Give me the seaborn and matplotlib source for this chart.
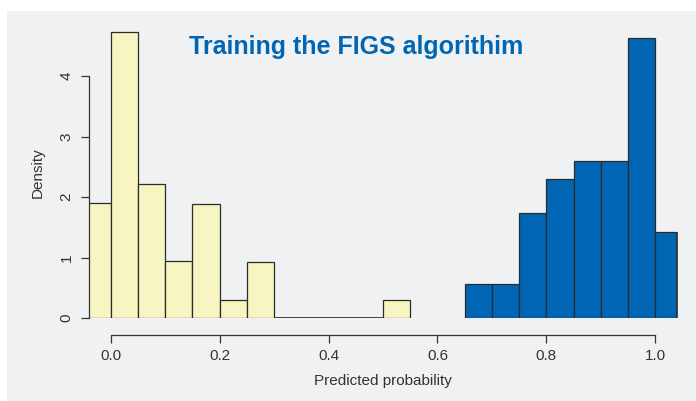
import numpy as np
import seaborn as sns
from matplotlib import pyplot as plt
from matplotlib.patches import Rectangle

# histogram bins (width 0.05) and their density heights
neg_edges = [-0.05, 0.0, 0.05, 0.10, 0.15, 0.20, 0.25, 0.30, 0.35, 0.40, 0.45, 0.50, 0.55]
neg_density = [1.90, 4.73, 2.21, 0.94, 1.88, 0.30, 0.93, 0.0, 0.0, 0.0, 0.0, 0.30]
pos_edges = [0.65, 0.70, 0.75, 0.80, 0.85, 0.90, 0.95, 1.00, 1.05]
pos_density = [0.56, 0.56, 1.73, 2.29, 2.60, 2.60, 4.62, 1.42]

x_ticks = [0.0, 0.2, 0.4, 0.6, 0.8, 1.0]
y_ticks = [0, 1, 2, 3, 4]

title = "Training the FIGS algorithim"
yellow = "#f7f5c1"
blue = "#0066b3"
panel = "#f0f1f3"
ink = "#333333"
edge = "#2b2b2b"

sns.set_style("white")
plt.rcParams["font.family"] = ["Liberation Sans", "DejaVu Sans"]

W, H = 696, 401
fig = plt.figure(figsize=(W / 100, H / 100), dpi=100)
fig.patch.set_facecolor("white")
fig.patches.append(Rectangle((7 / W, 0), 1, 1 - 11 / H, transform=fig.transFigure,
                             facecolor=panel, edgecolor="none", zorder=-10))

# axes placed in pixel coords: x -0.04 -> 89px, 1.04 -> 677px; y 0 -> 318px
y_top = 4.8
px_per_unit = 60.5
ax_left, ax_right = 89, 677
ax_bottom = 318
ax_top = ax_bottom - y_top * px_per_unit
ax = fig.add_axes([ax_left / W, 1 - ax_bottom / H, (ax_right - ax_left) / W, (ax_bottom - ax_top) / H])
ax.set_facecolor("none")


def centers(edges):
    e = np.array(edges)
    return (e[:-1] + e[1:]) / 2


sns.histplot(x=centers(neg_edges), weights=neg_density, bins=neg_edges, stat="count",
             color=yellow, alpha=1, edgecolor=edge, linewidth=0.9, ax=ax)
sns.histplot(x=centers(pos_edges), weights=pos_density, bins=pos_edges, stat="count",
             color=blue, alpha=1, edgecolor=edge, linewidth=0.9, ax=ax)

# empty bins still show their outline along the baseline
empty = [i for i, d in enumerate(neg_density) if d == 0]
ax.hlines(0, neg_edges[empty[0]], neg_edges[empty[-1] + 1], color=edge, linewidth=1.2)

ax.set_xlim(-0.04, 1.04)
ax.set_ylim(0, y_top)
# right edge of the clipped last bar
ax.vlines(1.04, 0, pos_density[-1], color=edge, linewidth=1.2, clip_on=False)

for s in ["top", "right"]:
    ax.spines[s].set_visible(False)
ax.spines["left"].set_bounds(0, 4)
ax.spines["bottom"].set_bounds(0, 1)
ax.spines["bottom"].set_position(("outward", 12))
for s in ["left", "bottom"]:
    ax.spines[s].set_color(ink)
    ax.spines[s].set_linewidth(0.9)

ax.set_xticks(x_ticks)
ax.set_xticklabels([f"{t:.1f}" for t in x_ticks])
ax.set_yticks(y_ticks)
ax.set_yticklabels([str(t) for t in y_ticks], rotation=90, va="center")
ax.tick_params(axis="both", direction="out", length=6, width=0.9, color=ink,
               labelcolor=ink, labelsize=11, left=True, bottom=True)
ax.tick_params(axis="x", pad=4)
ax.tick_params(axis="y", pad=5)

ax.set_xlabel("Predicted probability", fontsize=11, color=ink, labelpad=8)
ax.set_ylabel("Density", fontsize=11, color=ink, labelpad=11)

fig.text(356 / W, 1 - 47 / H, title, ha="center", va="center", fontsize=18,
         fontweight="bold", color=blue)

fig.savefig("out.png", dpi=100)
